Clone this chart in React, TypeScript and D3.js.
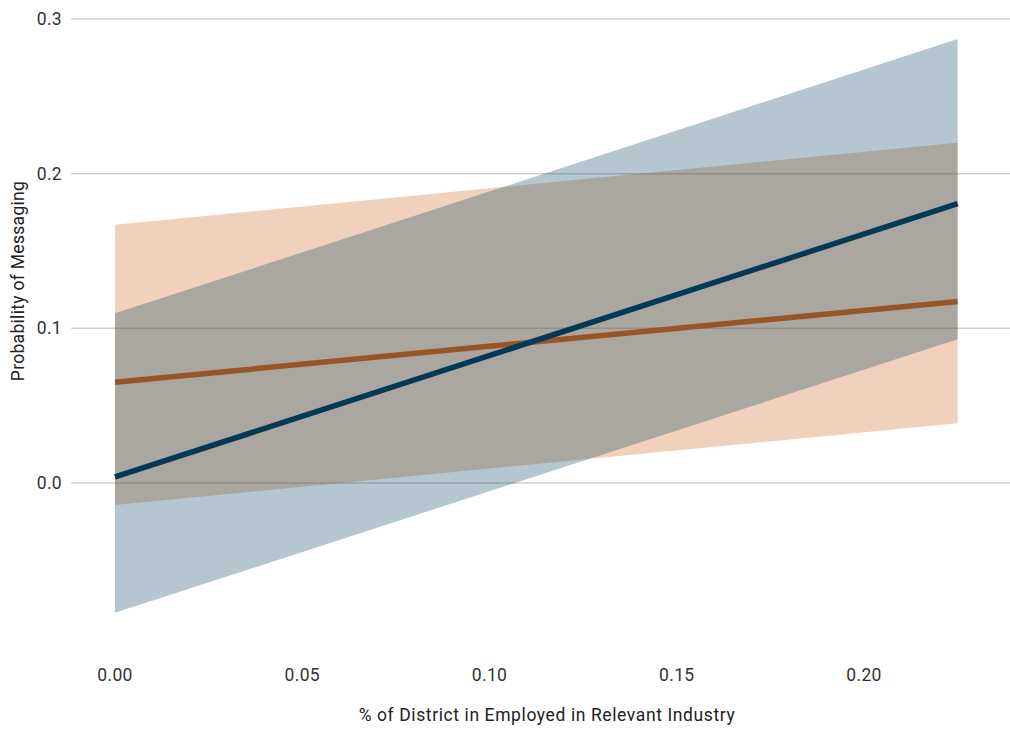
import React from "react";
import * as d3 from "d3";

// Predicted probability bands at the two ends of the observed range
const xValues = [0, 0.225];
const blueFit = [0.0039, 0.1806];
const blueLower = [-0.0839, 0.0929];
const blueUpper = [0.1097, 0.287];
const orangeFit = [0.0652, 0.1174];
const orangeLower = [-0.0142, 0.0387];
const orangeUpper = [0.167, 0.22];

const xTicks = [0, 0.05, 0.1, 0.15, 0.2];
const yTicks = [0, 0.1, 0.2, 0.3];

const W = 1010;
const H = 730;

export default function App() {
  const x = d3.scaleLinear().domain([0, 0.2]).range([115, 864]);
  const y = d3.scaleLinear().domain([0, 0.3]).range([483, 19]);
  const gridX1 = x(-0.0117);
  const gridX2 = W;

  const idx = xValues.map((_, i) => i);
  const area = (lo: number[], hi: number[]) =>
    d3
      .area<number>()
      .x((i) => x(xValues[i]))
      .y0((i) => y(lo[i]))
      .y1((i) => y(hi[i]))(idx) || "";
  const line = (v: number[]) =>
    d3
      .line<number>()
      .x((i) => x(xValues[i]))
      .y((i) => y(v[i]))(idx) || "";

  const font = "Roboto, 'Noto Sans', sans-serif";

  return (
    <svg
      width={W}
      height={H}
      style={{ position: "absolute", left: 0, top: 0, background: "#fff" }}
    >
      {yTicks.map((t) => (
        <g key={t}>
          <line x1={gridX1} x2={gridX2} y1={y(t)} y2={y(t)} stroke="#d0d0d0" strokeWidth={1.5} />
          <text
            x={62}
            y={y(t)}
            dy="0.35em"
            textAnchor="end"
            fontFamily={font}
            fontSize={17.5}
            letterSpacing={0.3}
            fill="#333"
          >
            {t.toFixed(1)}
          </text>
        </g>
      ))}
      <path d={area(orangeLower, orangeUpper)} fill="rgb(205,105,32)" fillOpacity={0.3} />
      <path d={area(blueLower, blueUpper)} fill="rgb(0,58,92)" fillOpacity={0.29} />
      <path d={line(orangeFit)} stroke="#9a5526" strokeWidth={5.5} fill="none" />
      <path d={line(blueFit)} stroke="#023a55" strokeWidth={5.5} fill="none" />
      {xTicks.map((t) => (
        <text
          key={t}
          x={x(t)}
          y={675}
          dy="0.35em"
          textAnchor="middle"
          fontFamily={font}
          fontSize={17.5}
          letterSpacing={0.3}
          fill="#333"
        >
          {t.toFixed(2)}
        </text>
      ))}
      <text
        x={547}
        y={715}
        dy="0.35em"
        textAnchor="middle"
        fontFamily={font}
        fontSize={17.5}
        letterSpacing={0.6}
        fill="#222"
      >
        % of District in Employed in Relevant Industry
      </text>
      <text
        transform="translate(18,281) rotate(-90)"
        dy="0.35em"
        textAnchor="middle"
        fontFamily={font}
        fontSize={17.5}
        letterSpacing={0.3}
        fill="#222"
      >
        Probability of Messaging
      </text>
    </svg>
  );
}
